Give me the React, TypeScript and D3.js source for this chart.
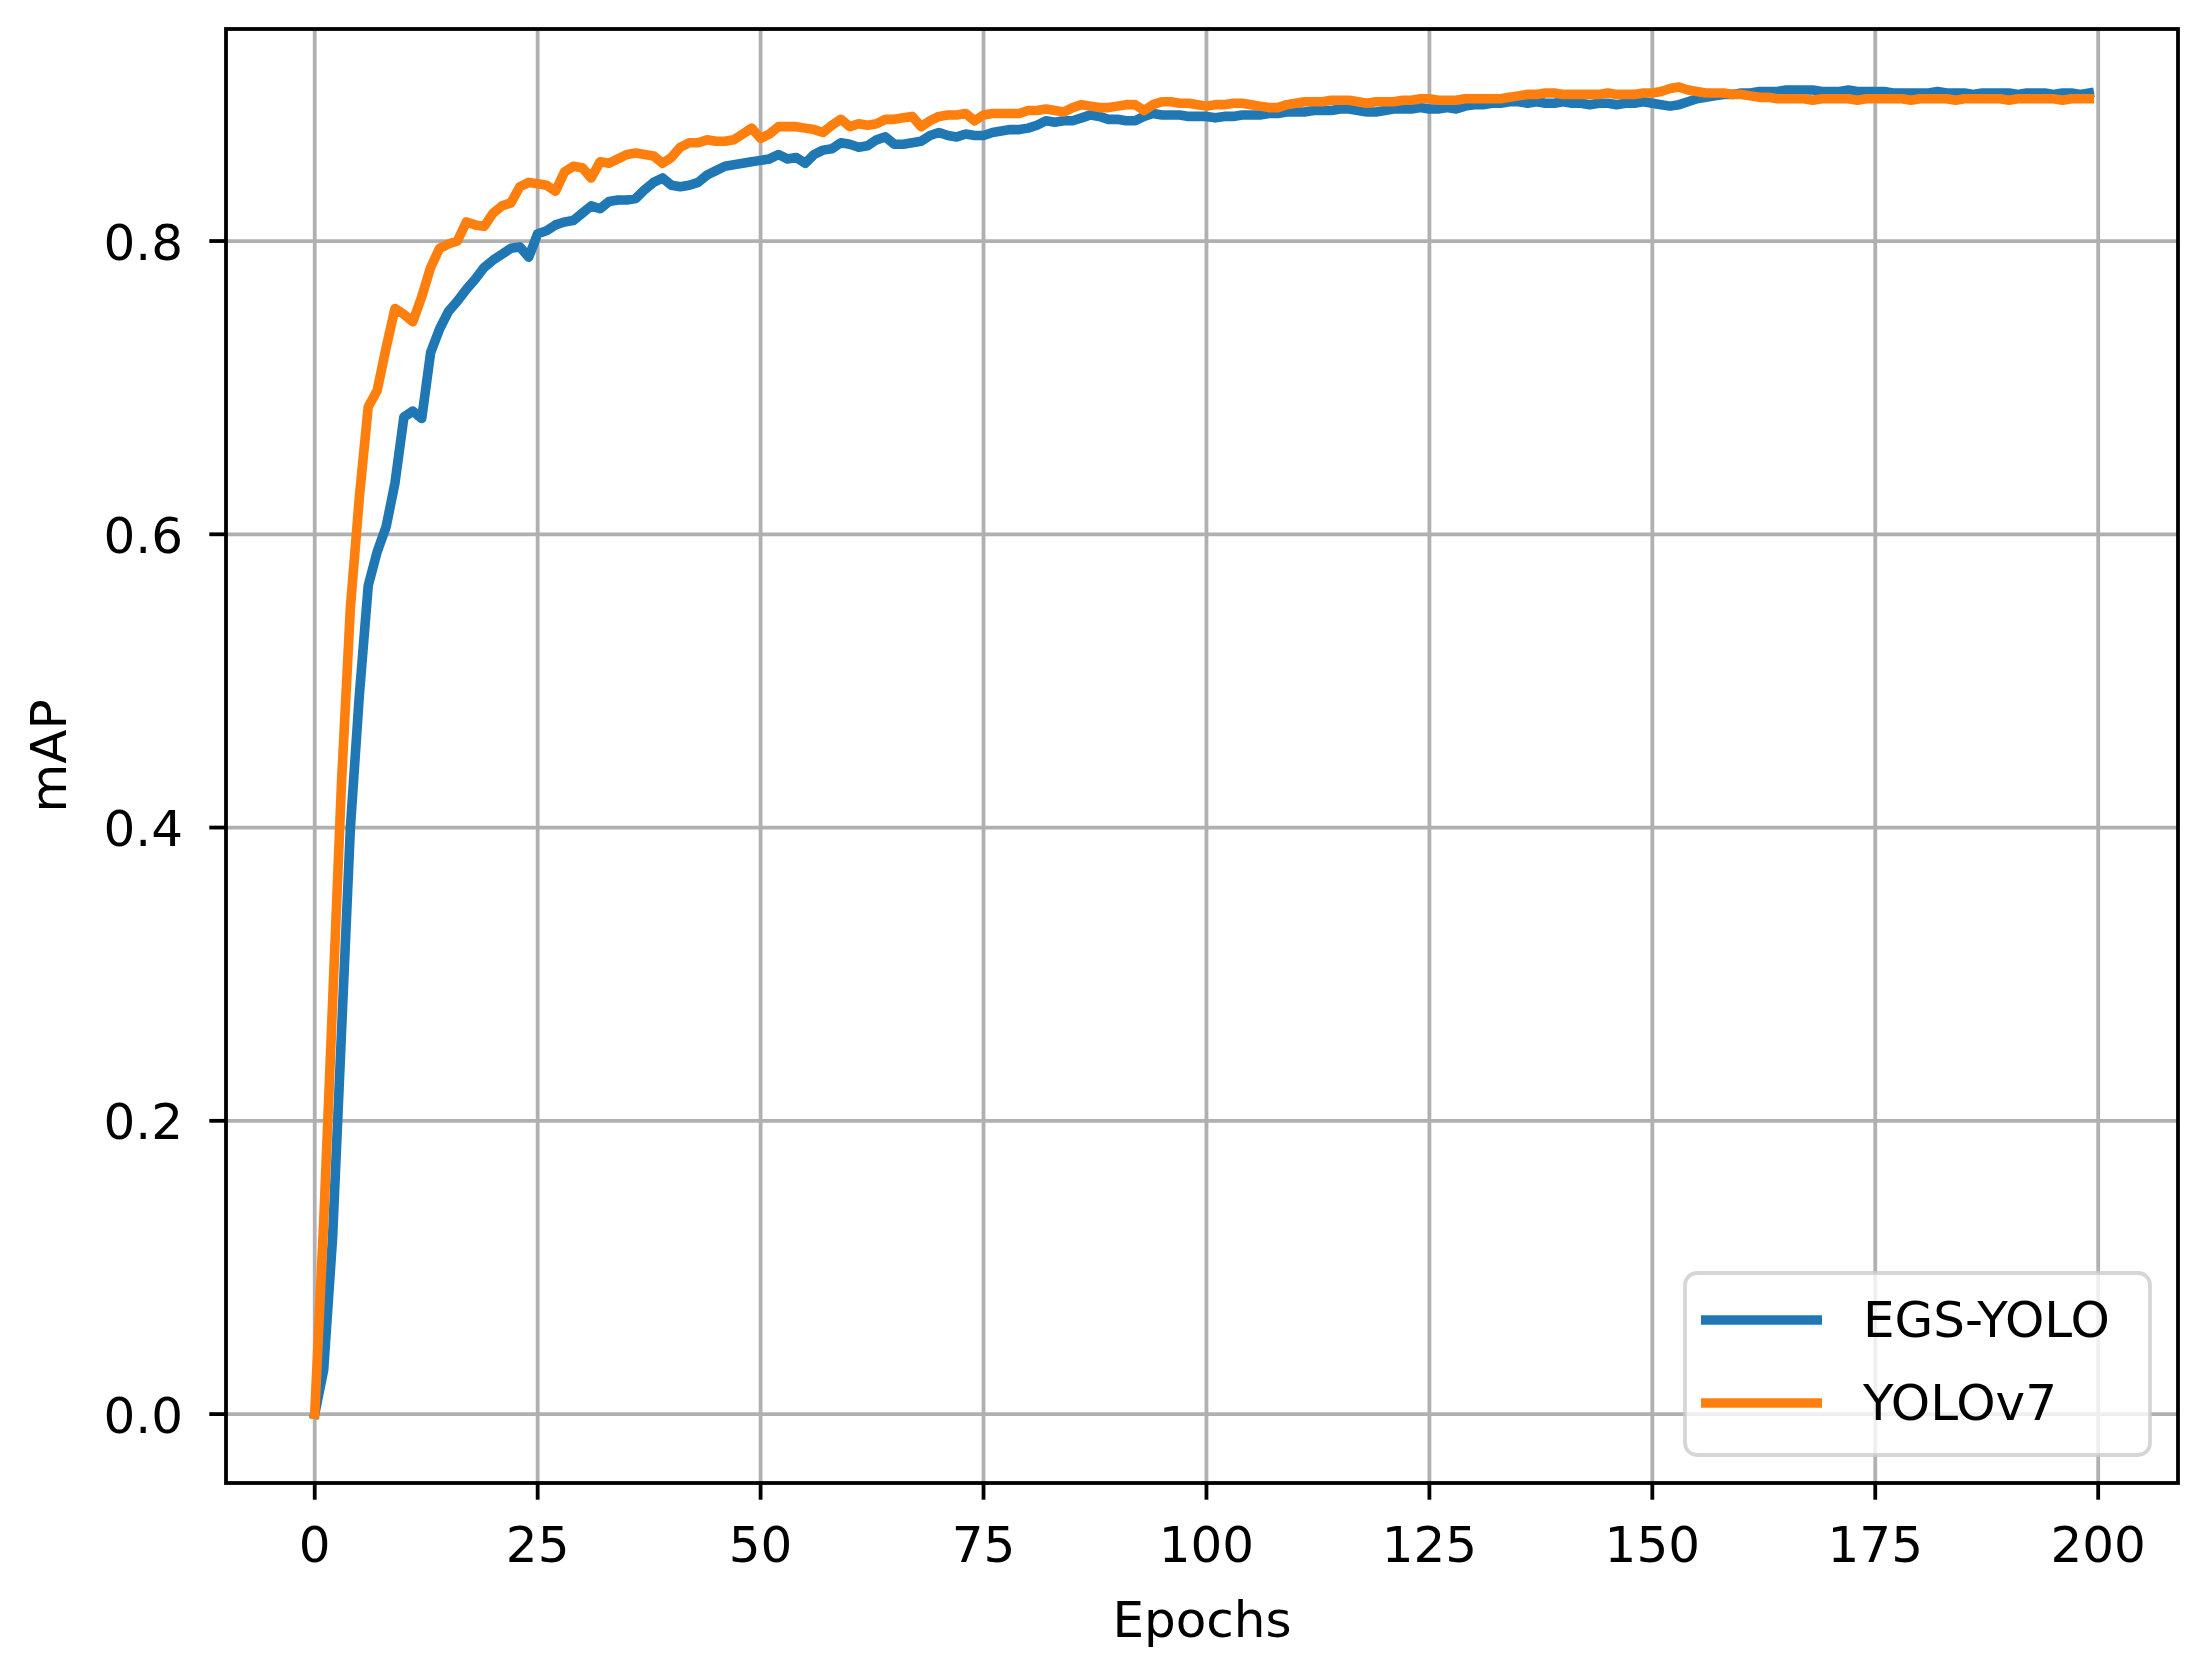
import React from 'react';
import * as d3 from 'd3';

// mAP per epoch (0..199)
const egsYolo: number[] = [
  0.000, 0.030, 0.120, 0.260, 0.400, 0.490, 0.565, 0.588, 0.605, 0.635,
  0.680, 0.684, 0.679, 0.724, 0.740, 0.752, 0.759, 0.767, 0.774, 0.782,
  0.787, 0.791, 0.795, 0.796, 0.789, 0.805, 0.807, 0.811, 0.813, 0.814,
  0.819, 0.824, 0.822, 0.827, 0.828, 0.828, 0.829, 0.835, 0.840, 0.843,
  0.838, 0.837, 0.838, 0.840, 0.845, 0.848, 0.851, 0.852, 0.853, 0.854,
  0.855, 0.856, 0.859, 0.856, 0.857, 0.853, 0.859, 0.862, 0.863, 0.867,
  0.866, 0.864, 0.865, 0.869, 0.871, 0.866, 0.866, 0.867, 0.868, 0.872,
  0.874, 0.872, 0.871, 0.873, 0.872, 0.872, 0.874, 0.875, 0.876, 0.876,
  0.877, 0.879, 0.882, 0.881, 0.882, 0.882, 0.884, 0.886, 0.885, 0.883,
  0.883, 0.882, 0.882, 0.885, 0.887, 0.886, 0.886, 0.886, 0.885, 0.885,
  0.885, 0.884, 0.885, 0.885, 0.886, 0.886, 0.886, 0.887, 0.887, 0.888,
  0.888, 0.888, 0.889, 0.889, 0.889, 0.890, 0.890, 0.889, 0.888, 0.888,
  0.889, 0.890, 0.890, 0.890, 0.891, 0.890, 0.890, 0.891, 0.890, 0.892,
  0.893, 0.893, 0.894, 0.894, 0.895, 0.895, 0.894, 0.895, 0.894, 0.894,
  0.895, 0.894, 0.894, 0.893, 0.894, 0.894, 0.893, 0.894, 0.894, 0.895,
  0.894, 0.893, 0.892, 0.893, 0.895, 0.897, 0.898, 0.899, 0.900, 0.900,
  0.901, 0.901, 0.902, 0.902, 0.902, 0.903, 0.903, 0.903, 0.903, 0.902,
  0.902, 0.902, 0.903, 0.902, 0.902, 0.902, 0.902, 0.901, 0.901, 0.901,
  0.901, 0.901, 0.902, 0.901, 0.901, 0.901, 0.900, 0.901, 0.901, 0.901,
  0.901, 0.900, 0.901, 0.901, 0.901, 0.900, 0.901, 0.901, 0.900, 0.901,
];

const yoloV7: number[] = [
  0.000, 0.130, 0.280, 0.430, 0.550, 0.625, 0.687, 0.698, 0.727, 0.754,
  0.750, 0.745, 0.762, 0.782, 0.795, 0.798, 0.800, 0.813, 0.811, 0.810,
  0.819, 0.824, 0.826, 0.837, 0.840, 0.839, 0.838, 0.834, 0.847, 0.851,
  0.850, 0.843, 0.854, 0.853, 0.856, 0.859, 0.860, 0.859, 0.858, 0.853,
  0.857, 0.864, 0.867, 0.867, 0.869, 0.868, 0.868, 0.869, 0.873, 0.877,
  0.870, 0.873, 0.878, 0.878, 0.878, 0.877, 0.876, 0.874, 0.879, 0.883,
  0.878, 0.880, 0.879, 0.880, 0.883, 0.883, 0.884, 0.885, 0.878, 0.882,
  0.885, 0.886, 0.886, 0.887, 0.882, 0.886, 0.887, 0.887, 0.887, 0.887,
  0.889, 0.889, 0.890, 0.889, 0.888, 0.891, 0.893, 0.892, 0.891, 0.891,
  0.892, 0.893, 0.893, 0.889, 0.893, 0.895, 0.895, 0.894, 0.894, 0.893,
  0.892, 0.893, 0.893, 0.894, 0.894, 0.893, 0.892, 0.891, 0.891, 0.893,
  0.894, 0.895, 0.895, 0.895, 0.896, 0.896, 0.896, 0.895, 0.894, 0.895,
  0.895, 0.895, 0.896, 0.896, 0.897, 0.897, 0.896, 0.896, 0.896, 0.897,
  0.897, 0.897, 0.897, 0.897, 0.898, 0.899, 0.900, 0.900, 0.901, 0.901,
  0.900, 0.900, 0.900, 0.900, 0.900, 0.901, 0.900, 0.900, 0.900, 0.901,
  0.901, 0.902, 0.904, 0.905, 0.903, 0.902, 0.901, 0.901, 0.901, 0.900,
  0.900, 0.899, 0.898, 0.898, 0.897, 0.897, 0.897, 0.897, 0.896, 0.897,
  0.897, 0.897, 0.897, 0.896, 0.897, 0.897, 0.897, 0.897, 0.897, 0.896,
  0.897, 0.897, 0.897, 0.897, 0.896, 0.897, 0.897, 0.897, 0.897, 0.897,
  0.896, 0.897, 0.897, 0.897, 0.897, 0.897, 0.896, 0.897, 0.897, 0.897,
];

const seriesNames = ['EGS-YOLO', 'YOLOv7'];
const seriesColors = ['#1f77b4', '#ff7f0e'];
const xTicks = [0, 25, 50, 75, 100, 125, 150, 175, 200];
const yTicks = [0.0, 0.2, 0.4, 0.6, 0.8];

const W = 2205;
const H = 1671;
const plot = { left: 226, right: 2178, top: 29, bottom: 1483 };
const FONT = 'DejaVu Sans, sans-serif';
const FS = 50;
const LW = 3.8;
const SERIES_W = 9.6;

const App: React.FC = () => {
  const x = d3.scaleLinear().domain([-9.95, 208.95]).range([plot.left, plot.right]);
  const y = d3.scaleLinear().domain([-0.047, 0.9446]).range([plot.bottom, plot.top]);

  const line = d3
    .line<number>()
    .x((_, i) => x(i))
    .y((d) => y(d));

  const series = [egsYolo, yoloV7];

  // legend layout
  const lg = { x: 1685, y: 1273, w: 465, h: 182 };
  const legendRows = [1320, 1403];

  return (
    <svg
      width={W}
      height={H}
      style={{ position: 'absolute', left: 0, top: 0, background: '#fff' }}
      fontFamily={FONT}
    >
      <rect x={0} y={0} width={W} height={H} fill="#fff" />
      <defs>
        <clipPath id="plot-clip">
          <rect x={plot.left} y={plot.top} width={plot.right - plot.left} height={plot.bottom - plot.top} />
        </clipPath>
      </defs>

      {/* grid */}
      <g stroke="#b0b0b0" strokeWidth={LW}>
        {xTicks.map((t) => (
          <line key={'gx' + t} x1={x(t)} x2={x(t)} y1={plot.top} y2={plot.bottom} />
        ))}
        {yTicks.map((t) => (
          <line key={'gy' + t} x1={plot.left} x2={plot.right} y1={y(t)} y2={y(t)} />
        ))}
      </g>

      {/* series */}
      <g clipPath="url(#plot-clip)">
        {series.map((s, i) => (
          <path
            key={seriesNames[i]}
            d={line(s) || ''}
            fill="none"
            stroke={seriesColors[i]}
            strokeWidth={SERIES_W}
            strokeLinejoin="round"
            strokeLinecap="square"
          />
        ))}
      </g>

      {/* spines */}
      <rect
        x={plot.left}
        y={plot.top}
        width={plot.right - plot.left}
        height={plot.bottom - plot.top}
        fill="none"
        stroke="#000"
        strokeWidth={LW}
      />

      {/* x ticks */}
      {xTicks.map((t) => (
        <g key={'xt' + t}>
          <line x1={x(t)} x2={x(t)} y1={plot.bottom} y2={plot.bottom + 16.7} stroke="#000" strokeWidth={LW} />
          <text x={x(t)} y={1562} fontSize={FS} textAnchor="middle" fill="#000">
            {t}
          </text>
        </g>
      ))}

      {/* y ticks */}
      {yTicks.map((t) => (
        <g key={'yt' + t}>
          <line x1={plot.left - 16.7} x2={plot.left} y1={y(t)} y2={y(t)} stroke="#000" strokeWidth={LW} />
          <text x={183} y={y(t) + 18.5} fontSize={FS} textAnchor="end" fill="#000">
            {d3.format('.1f')(t)}
          </text>
        </g>
      ))}

      {/* axis labels */}
      <text x={(plot.left + plot.right) / 2} y={1637} fontSize={FS} textAnchor="middle" fill="#000">
        Epochs
      </text>
      <text
        transform={`translate(66, ${(plot.top + plot.bottom) / 2}) rotate(-90)`}
        fontSize={FS}
        textAnchor="middle"
        fill="#000"
      >
        mAP
      </text>

      {/* legend */}
      <rect
        x={lg.x}
        y={lg.y}
        width={lg.w}
        height={lg.h}
        rx={12}
        ry={12}
        fill="#fff"
        fillOpacity={0.8}
        stroke="#cccccc"
        strokeOpacity={0.8}
        strokeWidth={LW}
      />
      {seriesNames.map((name, i) => (
        <g key={'lg' + name}>
          <line x1={1701} x2={1822} y1={legendRows[i]} y2={legendRows[i]} stroke={seriesColors[i]} strokeWidth={SERIES_W} />
          <text x={1863} y={legendRows[i] + 17} fontSize={FS} fill="#000">
            {name}
          </text>
        </g>
      ))}
    </svg>
  );
};

export default App;
